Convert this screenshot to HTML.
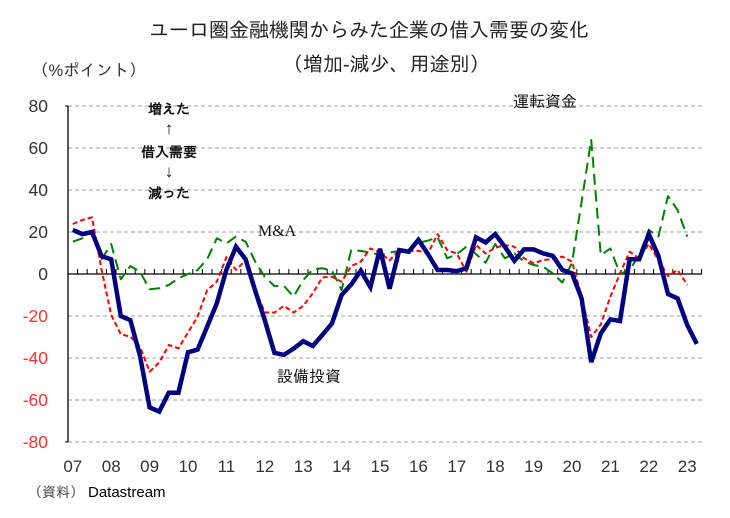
<!DOCTYPE html>
<html><head><meta charset="utf-8"><style>
html,body{margin:0;padding:0;background:#fff;}
svg{display:block;}
text{font-family:"Liberation Sans","IPAGothic","Noto Sans CJK JP",sans-serif;}
</style></head><body>
<svg width="730" height="518" viewBox="0 0 730 518" xmlns="http://www.w3.org/2000/svg">
<rect width="730" height="518" fill="#fff"/>
<!-- titles -->
<text x="369" y="37" font-size="20" text-anchor="middle" fill="#222">ユーロ圏金融機関からみた企業の借入需要の変化</text>
<text x="283" y="71" font-size="20" fill="#222">（増加-減少、用途別）</text>
<text x="32" y="76" font-size="16.5" fill="#333">（%ポイント）</text>
<!-- gridlines -->
<g stroke="#a0a0a0" stroke-width="1" stroke-dasharray="4,3">
<line x1="68" y1="106" x2="702" y2="106"/>
<line x1="68" y1="148" x2="702" y2="148"/>
<line x1="68" y1="190" x2="702" y2="190"/>
<line x1="68" y1="232" x2="702" y2="232"/>
<line x1="68" y1="316" x2="702" y2="316"/>
<line x1="68" y1="358" x2="702" y2="358"/>
<line x1="68" y1="400" x2="702" y2="400"/>
<line x1="68" y1="442" x2="702" y2="442"/>
</g>
<!-- axes -->
<line x1="68" y1="106" x2="68" y2="442" stroke="#000" stroke-width="1.3"/>
<line x1="65" y1="106" x2="68" y2="106" stroke="#000" stroke-width="1"/>
<line x1="65" y1="442" x2="68" y2="442" stroke="#000" stroke-width="1"/>
<line x1="68" y1="274" x2="702" y2="274" stroke="#000" stroke-width="1.3"/>
<path stroke="#000" stroke-width="1" fill="none" d="M77.6 274V269M87.2 274V269M96.8 274V269M106.4 274V269M116 274V269M125.6 274V269M135.2 274V269M144.8 274V269M154.4 274V269M164 274V269M173.6 274V269M183.2 274V269M192.8 274V269M202.4 274V269M212 274V269M221.6 274V269M231.2 274V269M240.8 274V269M250.4 274V269M260 274V269M269.6 274V269M279.2 274V269M288.8 274V269M298.4 274V269M308 274V269M317.6 274V269M327.2 274V269M336.8 274V269M346.4 274V269M356 274V269M365.6 274V269M375.2 274V269M384.8 274V269M394.4 274V269M404 274V269M413.6 274V269M423.2 274V269M432.8 274V269M442.4 274V269M452 274V269M461.6 274V269M471.2 274V269M480.8 274V269M490.4 274V269M500 274V269M509.6 274V269M519.2 274V269M528.8 274V269M538.4 274V269M548 274V269M557.6 274V269M567.2 274V269M576.8 274V269M586.4 274V269M596 274V269M605.6 274V269M615.2 274V269M624.8 274V269M634.4 274V269M644 274V269M653.6 274V269M663.2 274V269M672.8 274V269M682.4 274V269M692 274V269M701.6 274V269"/>
<!-- y labels -->
<g font-size="17.5" text-anchor="end">
<text x="48" y="112" fill="#333">80</text>
<text x="48" y="154" fill="#333">60</text>
<text x="48" y="196" fill="#333">40</text>
<text x="48" y="238" fill="#333">20</text>
<text x="48" y="280" fill="#333">0</text>
<text x="48" y="322" fill="#ff3333">-20</text>
<text x="48" y="364" fill="#ff3333">-40</text>
<text x="48" y="406" fill="#ff3333">-60</text>
<text x="48" y="448" fill="#ff3333">-80</text>
</g>
<!-- x labels -->
<g font-size="17" text-anchor="middle" fill="#333">
<text x="72.8" y="472">07</text>
<text x="111.2" y="472">08</text>
<text x="149.6" y="472">09</text>
<text x="188" y="472">10</text>
<text x="226.4" y="472">11</text>
<text x="264.8" y="472">12</text>
<text x="303.2" y="472">13</text>
<text x="341.6" y="472">14</text>
<text x="380" y="472">15</text>
<text x="418.4" y="472">16</text>
<text x="456.8" y="472">17</text>
<text x="495.2" y="472">18</text>
<text x="533.6" y="472">19</text>
<text x="572" y="472">20</text>
<text x="610.4" y="472">21</text>
<text x="648.8" y="472">22</text>
<text x="687.2" y="472">23</text>
</g>
<text x="28" y="497" font-size="14" fill="#444">（資料）</text>
<text x="88" y="497" font-size="15" fill="#000">Datastream</text>
<!-- annotations -->
<g font-size="14" font-weight="bold" text-anchor="middle" fill="#111">
<text x="169" y="114">増えた</text>
<text x="169" y="134" font-size="17" font-weight="normal">↑</text>
<text x="169" y="157">借入需要</text>
<text x="169" y="177" font-size="17" font-weight="normal">↓</text>
<text x="169" y="198">減った</text>
</g>
<text x="513" y="107" font-size="16" fill="#111">運転資金</text>
<text x="258" y="236" font-size="16" fill="#111" style="font-family:'Liberation Serif',serif">M&amp;A</text>
<text x="277" y="382" font-size="16" fill="#111">設備投資</text>
<!-- series: green (long dash) -->
<polyline fill="none" stroke="#008000" stroke-width="2" stroke-dasharray="11,6" stroke-linejoin="round" points="72.8,241.7 82.4,238.3 92,231.6 101.6,259.3 111.2,244 120.8,279.3 130.4,266 140,271.7 149.6,289.3 159.2,288.3 168.8,284.9 178.4,278.4 188,274 197.6,270 207.2,259.3 216.8,238.3 226.4,243.3 236,236.6 245.6,241.7 255.2,261.6 264.8,276.7 274.4,286 284,286 293.6,296.7 303.2,280.1 312.8,269.4 322.4,268.3 332,270.6 341.6,290 351.2,250.1 360.8,250.9 370.4,252.6 380,255.1 389.6,252.6 399.2,250.9 408.8,250.1 418.4,242.7 428,240.6 437.6,237.3 447.2,258.3 456.8,254.1 466.4,246.7 476,254.1 485.6,262.7 495.2,244 504.8,258.3 514.4,253.4 524,261.6 533.6,265 543.2,266.7 552.8,273.4 562.4,282.6 572,262.7 581.6,201.8 591.2,140 600.8,255.1 610.4,248.4 620,274 629.6,270 639.2,255.1 648.8,229.9 658.4,236.6 668,196.1 677.6,210 687.2,236.6"/>
<!-- series: red (short dash) -->
<polyline fill="none" stroke="#ff0000" stroke-width="2" stroke-dasharray="5,3" stroke-linejoin="round" points="72.8,224 82.4,220 92,217.3 101.6,269.8 111.2,315 120.8,334.3 130.4,336.6 140,346.7 149.6,371.7 159.2,362.6 168.8,345 178.4,348.3 188,332.6 197.6,316.6 207.2,290 216.8,281.8 226.4,257.2 236,269.8 245.6,260.4 255.2,290 264.8,312.4 274.4,312.6 284,305.9 293.6,312.6 303.2,305.9 312.8,293.3 322.4,277.4 332,276.7 341.6,281.8 351.2,266 360.8,261.6 370.4,248.4 380,252.6 389.6,260.4 399.2,250.1 408.8,250.9 418.4,250.9 428,253.4 437.6,234.1 447.2,250.1 456.8,253.4 466.4,271.7 476,245 485.6,253.4 495.2,247.8 504.8,245 514.4,246.7 524,258.3 533.6,263.3 543.2,259.9 552.8,259.3 562.4,256.6 572,261.6 581.6,296.7 591.2,337 600.8,324.4 610.4,296.7 620,273.4 629.6,251.7 639.2,258.3 648.8,244 658.4,259.9 668,276.1 677.6,270 687.2,284.9"/>
<!-- series: navy (thick solid) -->
<polyline fill="none" stroke="#000080" stroke-width="4.5" stroke-linejoin="miter" points="72.8,229.9 82.4,234.1 92,232 101.6,256.2 111.2,259.3 120.8,316 130.4,320.2 140,355.9 149.6,407.4 159.2,411.6 168.8,392.7 178.4,392.7 188,352.3 197.6,349.6 207.2,326.5 216.8,303.4 226.4,269.8 236,246.7 245.6,259.3 255.2,290.8 264.8,320.2 274.4,352.8 284,354.9 293.6,348.6 303.2,341.2 312.8,346 322.4,334.9 332,323.4 341.6,295 351.2,284.5 360.8,270.6 370.4,287.2 380,248.8 389.6,288.7 399.2,250.1 408.8,251.7 418.4,239.8 428,254.1 437.6,270 447.2,270 456.8,271.1 466.4,268.3 476,237.3 485.6,242.5 495.2,234.1 504.8,246.7 514.4,260.8 524,249.4 533.6,249.4 543.2,253.4 552.8,255.9 562.4,270 572,273.4 581.6,298.4 591.2,362.2 600.8,333.4 610.4,319.4 620,321 629.6,259.3 639.2,259.3 648.8,234.1 658.4,255.9 668,294 677.6,298.4 687.2,325 696.8,343.9"/>
</svg>
</body></html>
